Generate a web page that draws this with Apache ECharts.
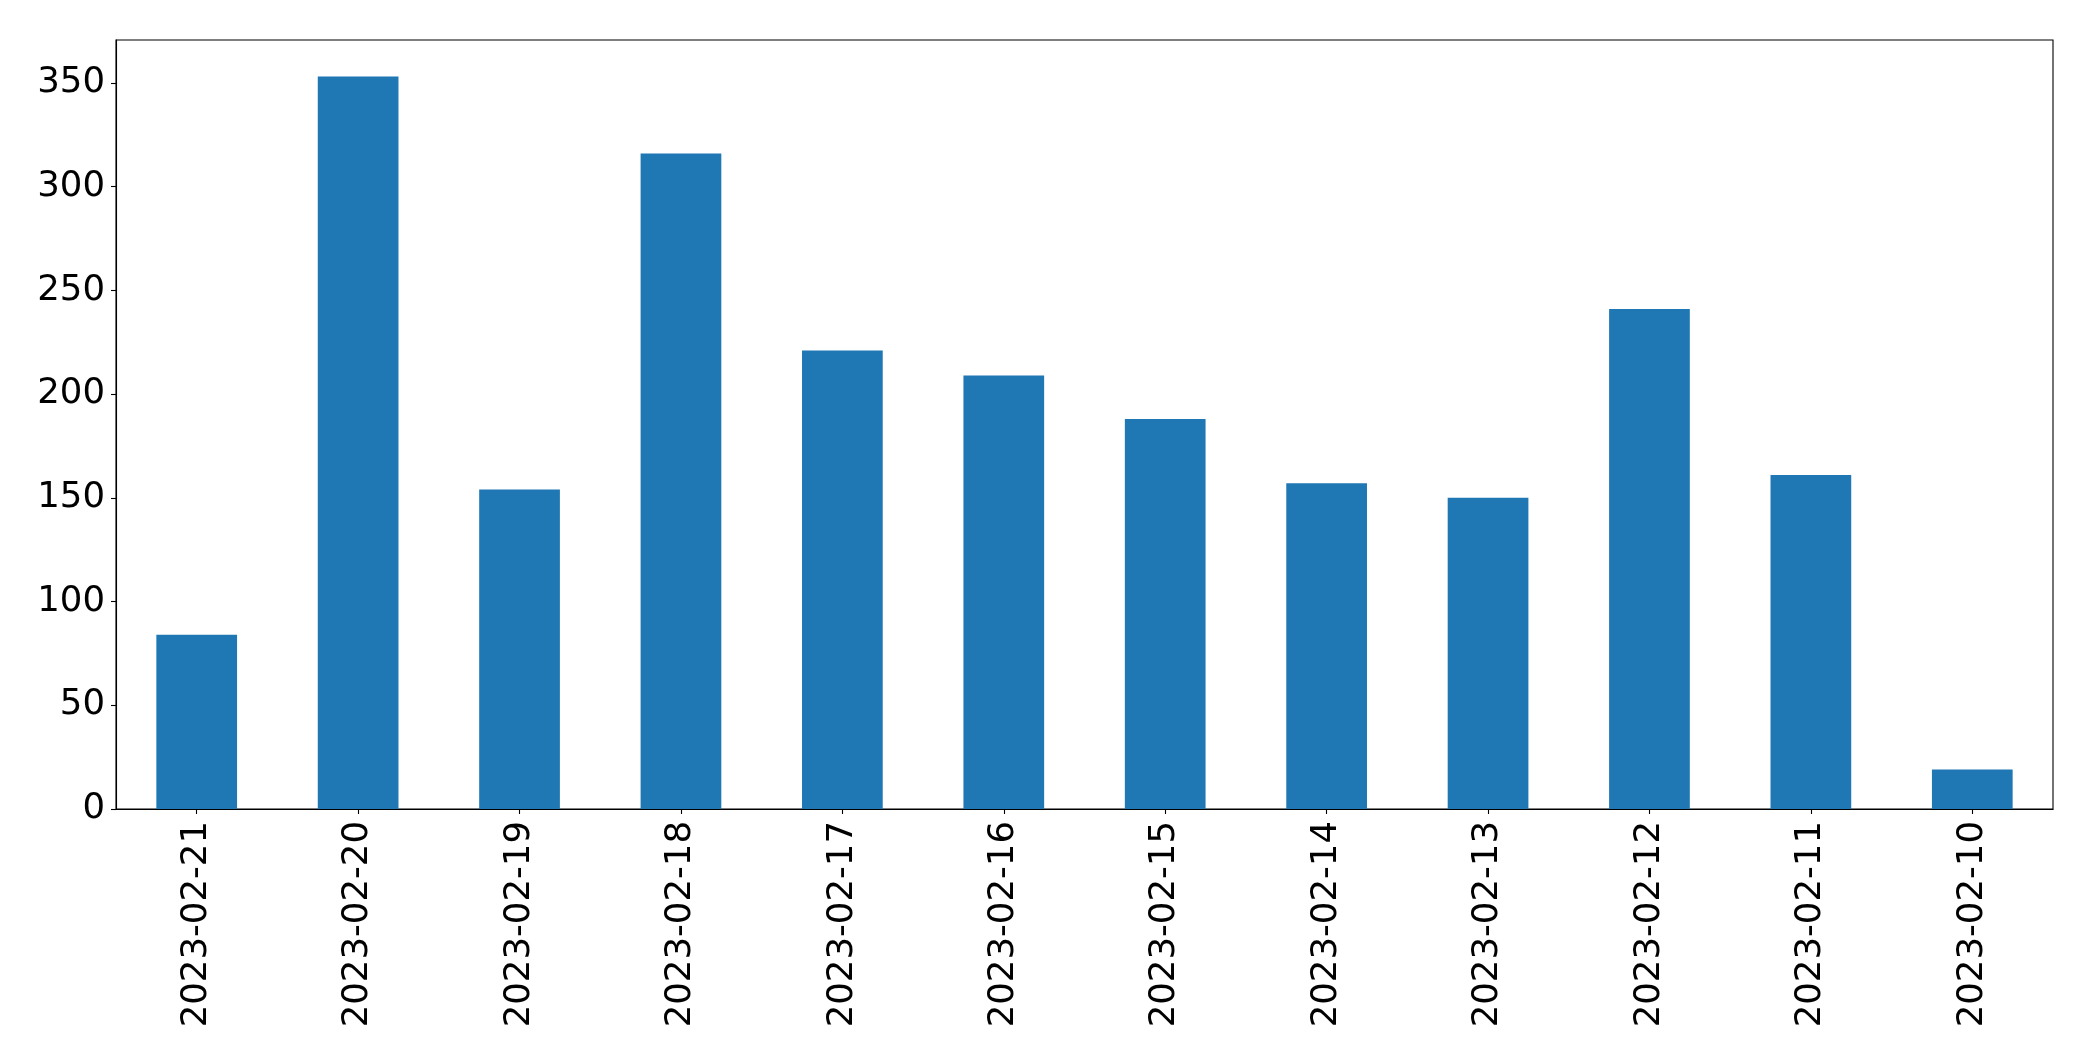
<!DOCTYPE html>
<html>
<head>
<meta charset="utf-8">
<script src="https://cdn.jsdelivr.net/npm/echarts@6/dist/echarts.min.js"></script>
<style>
html,body{margin:0;padding:0;background:#fff;}
#chart{width:2093px;height:1061px;}
</style>
</head>
<body>
<div id="chart"></div>
<script>
const categories = ['2023-02-21','2023-02-20','2023-02-19','2023-02-18','2023-02-17','2023-02-16','2023-02-15','2023-02-14','2023-02-13','2023-02-12','2023-02-11','2023-02-10'];
const values = [84, 353, 154, 316, 221, 209, 188, 157, 150, 241, 161, 19];
const yTicks = [0, 50, 100, 150, 200, 250, 300, 350];

const chart = echarts.init(document.getElementById('chart'));
const font = 'DejaVu Sans';
chart.setOption({
  animation: false,
  backgroundColor: '#fff',
  grid: {left: 116, right: 40, top: 40, bottom: 252, show: true, borderColor: '#000', borderWidth: 1.1, containLabel: false},
  xAxis: {
    type: 'category',
    data: categories,
    boundaryGap: true,
    axisLine: {show: true, lineStyle: {color: '#000', width: 1.1}},
    axisTick: {show: true, alignWithLabel: true, length: 5, lineStyle: {color: '#000', width: 1.1}},
    axisLabel: {rotate: 90, fontFamily: font, fontSize: 35.5, color: '#000', margin: 12, interval: 0}
  },
  yAxis: {
    type: 'value',
    min: 0,
    max: Math.max(...values) * 1.05,
    interval: 50,
    splitLine: {show: false},
    axisLine: {show: true, lineStyle: {color: '#000', width: 1.1}},
    axisTick: {show: true, length: 5, lineStyle: {color: '#000', width: 1.1}, customValues: yTicks},
    axisLabel: {fontFamily: font, fontSize: 35.5, color: '#000', margin: 11, customValues: yTicks}
  },
  series: [{
    type: 'bar',
    data: values,
    barCategoryGap: '50%',
    itemStyle: {color: '#1f77b4'}
  }]
});
</script>
</body>
</html>
